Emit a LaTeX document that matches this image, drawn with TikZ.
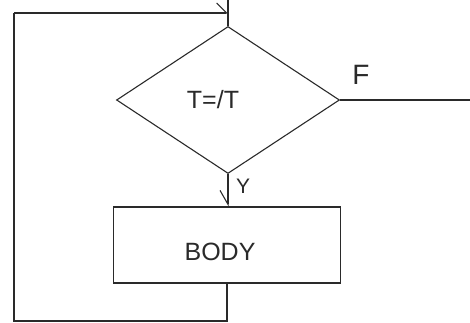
\documentclass[tikz,border=0pt]{standalone}
\usepackage{fontspec}
\setmainfont{Liberation Sans}
\usetikzlibrary{shapes.geometric,arrows.meta}
\definecolor{ink}{HTML}{2A2A2A}
\tikzset{
  line/.style={draw=ink,line width=1.1pt},
  decision/.style={diamond,line,inner sep=0pt,minimum width=223pt,minimum height=147pt},
  process/.style={rectangle,line,inner sep=0pt,minimum width=227pt,minimum height=76pt},
  lbl/.style={text=ink,inner sep=0pt},
  barbL/.style={-{Straight Barb[left,length=10pt,width=20pt]}},
  barbR/.style={-{Straight Barb[right,length=14pt,width=16pt]}}
}
\begin{document}
\begin{tikzpicture}[x=1pt,y=-1pt]
\useasboundingbox (0,0) rectangle (470,323);
\node[decision] (dec) at (228,100) {};
\node[lbl,font=\fontsize{25}{25}\selectfont] (cond) at (213,100) {T=/T};
\node[process] (body) at (227,245) {};
\node[lbl,font=\fontsize{25}{25}\selectfont] (bodytxt) at (220,252) {BODY};
\node[lbl,font=\fontsize{28}{28}\selectfont] (F) at (361,75) {F};
\node[lbl,font=\fontsize{21}{21}\selectfont] (Y) at (243,186) {Y};
\coordinate (top) at (228,0);
\coordinate (join) at (228,13);
\coordinate (exit) at (470,100);
\coordinate (bl) at (14,321);
\coordinate (tl) at (14,13);
% entry line from top into decision
\draw[line] (top) -- (dec.north);
% false exit
\draw[line] (dec.east) -- (exit);
% true branch into body
\draw[line,barbR] (dec.south) -- (dec.south |- body.north);
% loop back
\draw[line] (body.south) -- (body.south |- bl) -- (bl) -- (tl);
\draw[line,barbL] (tl) -- (join);
\end{tikzpicture}
\end{document}
